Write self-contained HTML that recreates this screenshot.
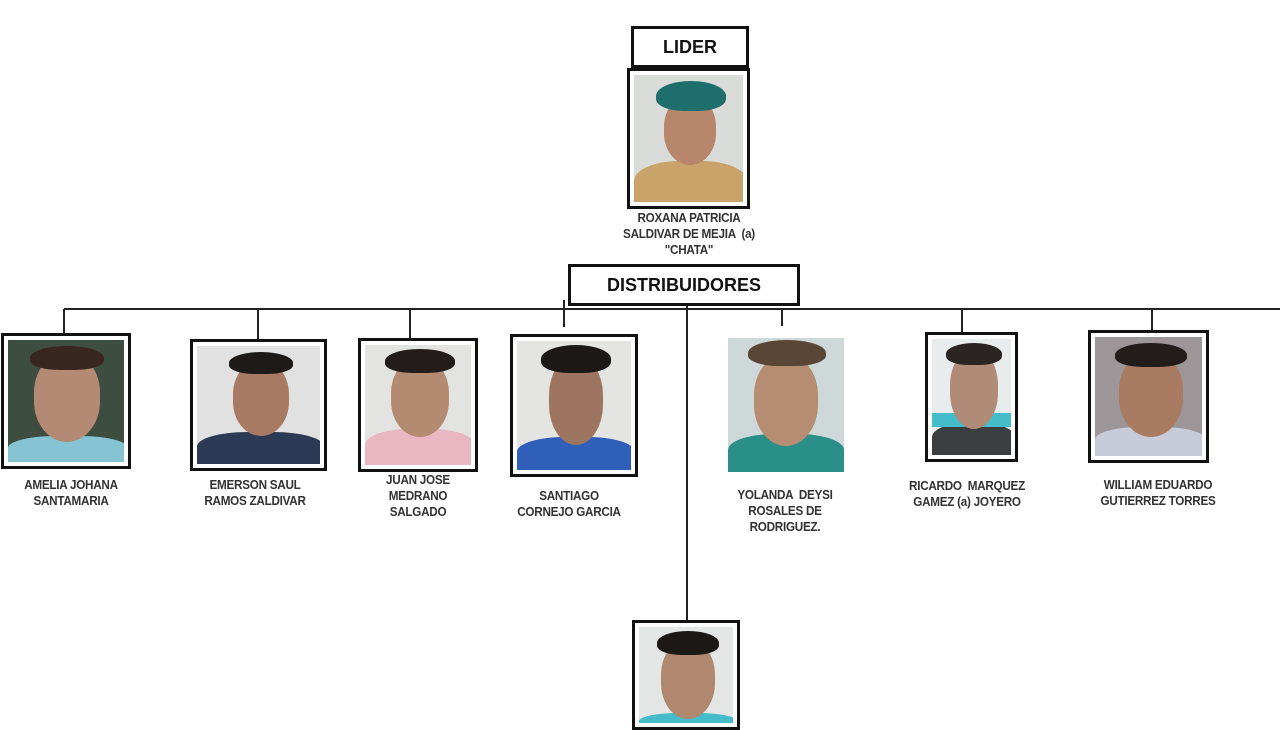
<!DOCTYPE html>
<html><head><meta charset="utf-8"><style>
body{margin:0;width:1280px;height:720px;background:#fff;position:relative;overflow:hidden;font-family:"Liberation Sans",sans-serif}
.a{position:absolute}
.box{position:absolute;border:3px solid #111;background:#fff;box-sizing:border-box;font-weight:bold;font-size:18px;color:#111;display:flex;align-items:center;justify-content:center}
.fr{position:absolute;border:3px solid #111;background:#fff;box-sizing:border-box;padding:4px}
.ph{width:100%;height:100%;position:relative;overflow:hidden}
.head{position:absolute;border-radius:50%/45%}
.hair{position:absolute;border-radius:50% 50% 40% 40%}
.body{position:absolute;border-radius:40% 40% 0 0}
.t{position:absolute;text-align:center;font-weight:bold;font-size:13px;color:#333;line-height:16px;letter-spacing:-0.3px;transform:translateX(-50%) scaleX(0.9);white-space:nowrap}
.l{position:absolute;background:#222}
</style></head><body>

<div class="box" style="left:631px;top:26px;width:118px;height:42px">LIDER</div>
<div class="fr" style="left:627px;top:68px;width:123px;height:141px"><div class="ph" style="background:#d9dcd8">
<div class="body" style="left:0;top:86px;width:113px;height:50px;background:#c9a36a"></div>
<div class="head" style="left:30px;top:20px;width:52px;height:70px;background:#b7866b"></div>
<div class="hair" style="left:22px;top:6px;width:70px;height:30px;background:#1f6e6e"></div></div></div>
<div class="t" style="left:689px;top:210px">ROXANA PATRICIA<br>SALDIVAR DE MEJIA &nbsp;(a)<br>"CHATA"</div>

<div class="box" style="left:568px;top:264px;width:232px;height:42px">DISTRIBUIDORES</div>

<div class="l" style="left:64px;top:308px;width:1216px;height:2px"></div>
<div class="l" style="left:686px;top:306px;width:2px;height:314px"></div>
<div class="l" style="left:63px;top:309px;width:2px;height:25px"></div>
<div class="l" style="left:257px;top:309px;width:2px;height:30px"></div>
<div class="l" style="left:409px;top:309px;width:2px;height:29px"></div>
<div class="l" style="left:563px;top:300px;width:2px;height:27px"></div>
<div class="l" style="left:781px;top:309px;width:2px;height:17px"></div>
<div class="l" style="left:961px;top:309px;width:2px;height:23px"></div>
<div class="l" style="left:1151px;top:309px;width:2px;height:21px"></div>

<div class="fr" style="left:1px;top:333px;width:130px;height:136px"><div class="ph" style="background:#3d4d40">
<div class="body" style="left:0;top:96px;width:120px;height:30px;background:#86c4d4"></div>
<div class="head" style="left:26px;top:12px;width:66px;height:90px;background:#b58a74"></div>
<div class="hair" style="left:22px;top:6px;width:74px;height:24px;background:#3a2620"></div></div></div>
<div class="t" style="left:71px;top:477px">AMELIA JOHANA<br>SANTAMARIA</div>

<div class="fr" style="left:190px;top:339px;width:137px;height:132px"><div class="ph" style="background:#e0e1e0">
<div class="body" style="left:0;top:86px;width:127px;height:36px;background:#2c3a55"></div>
<div class="head" style="left:36px;top:14px;width:56px;height:76px;background:#a87a63"></div>
<div class="hair" style="left:32px;top:6px;width:64px;height:22px;background:#1e1a18"></div></div></div>
<div class="t" style="left:255px;top:477px">EMERSON SAUL<br>RAMOS ZALDIVAR</div>

<div class="fr" style="left:358px;top:338px;width:120px;height:134px"><div class="ph" style="background:#e3e3e1">
<div class="body" style="left:0;top:84px;width:110px;height:40px;background:#e8b7c2"></div>
<div class="head" style="left:26px;top:12px;width:58px;height:80px;background:#b48a70"></div>
<div class="hair" style="left:20px;top:4px;width:70px;height:24px;background:#221c1a"></div></div></div>
<div class="t" style="left:418px;top:472px">JUAN JOSE<br>MEDRANO<br>SALGADO</div>

<div class="fr" style="left:510px;top:334px;width:128px;height:143px"><div class="ph" style="background:#e4e4e2">
<div class="body" style="left:0;top:96px;width:118px;height:37px;background:#2f5fb8"></div>
<div class="head" style="left:32px;top:14px;width:54px;height:90px;background:#9e7560"></div>
<div class="hair" style="left:24px;top:4px;width:70px;height:28px;background:#1c1816"></div></div></div>
<div class="t" style="left:569px;top:488px">SANTIAGO<br>CORNEJO GARCIA</div>

<div class="a" style="left:728px;top:338px;width:116px;height:134px;background:#cfd8d8;overflow:hidden">
<div class="body" style="left:0;top:96px;width:116px;height:40px;background:#2a8f88"></div>
<div class="head" style="left:26px;top:16px;width:64px;height:92px;background:#b68c72"></div>
<div class="hair" style="left:20px;top:2px;width:78px;height:26px;background:#5a4636"></div></div>
<div class="t" style="left:785px;top:487px">YOLANDA &nbsp;DEYSI<br>ROSALES DE<br>RODRIGUEZ.</div>

<div class="fr" style="left:925px;top:332px;width:93px;height:130px"><div class="ph" style="background:#e9ecec">
<div class="body" style="left:0;top:84px;width:83px;height:36px;background:#3b3e40"></div>
<div class="a" style="left:0;top:74px;width:83px;height:14px;background:#45bcc9"></div>
<div class="head" style="left:18px;top:10px;width:48px;height:80px;background:#b08b77"></div>
<div class="hair" style="left:14px;top:4px;width:56px;height:22px;background:#2a2422"></div></div></div>
<div class="t" style="left:967px;top:478px">RICARDO &nbsp;MARQUEZ<br>GAMEZ (a) JOYERO</div>

<div class="fr" style="left:1088px;top:330px;width:121px;height:133px"><div class="ph" style="background:#9c9698">
<div class="body" style="left:0;top:90px;width:111px;height:32px;background:#c8cbd8"></div>
<div class="head" style="left:24px;top:14px;width:64px;height:86px;background:#a97b62"></div>
<div class="hair" style="left:20px;top:6px;width:72px;height:24px;background:#221c1a"></div></div></div>
<div class="t" style="left:1158px;top:477px">WILLIAM EDUARDO<br>GUTIERREZ TORRES</div>

<div class="fr" style="left:632px;top:620px;width:108px;height:110px"><div class="ph" style="background:#e4e6e6">
<div class="body" style="left:0;top:86px;width:98px;height:20px;background:#45bcc9"></div>
<div class="head" style="left:22px;top:12px;width:54px;height:80px;background:#b08870"></div>
<div class="hair" style="left:18px;top:4px;width:62px;height:24px;background:#1c1816"></div></div></div>

</body></html>
